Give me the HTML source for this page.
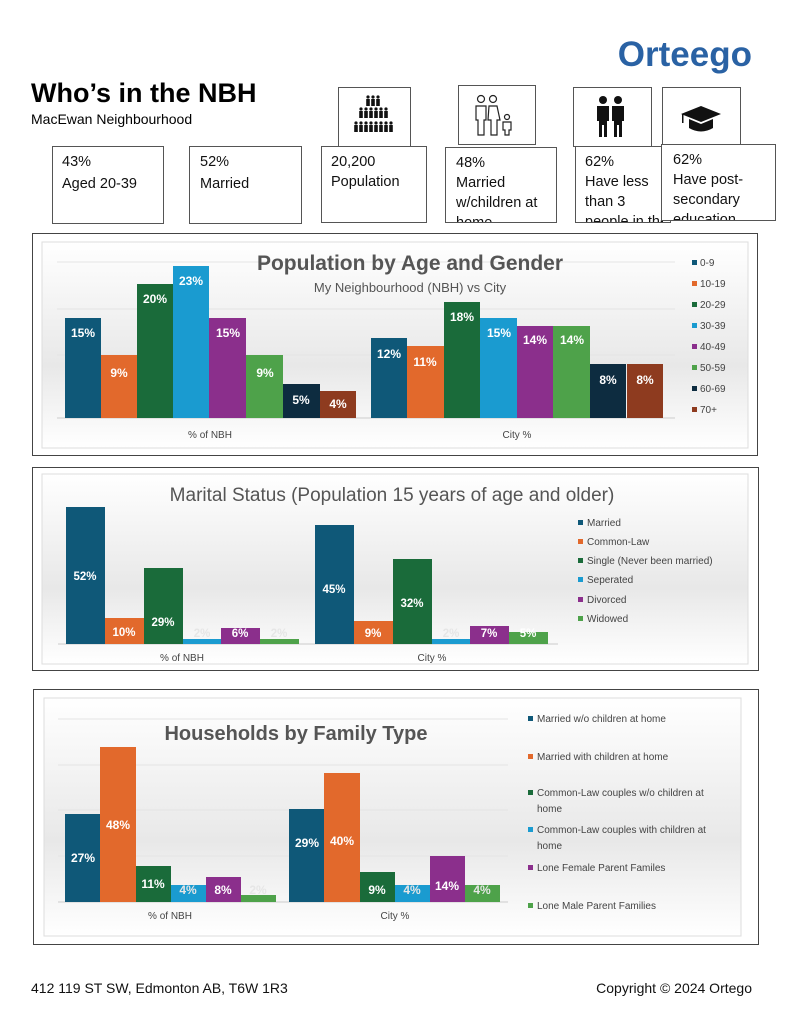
<!DOCTYPE html>
<html><head><meta charset="utf-8"><style>
html,body{margin:0;padding:0;background:#fff;}
svg{display:block;font-family:"Liberation Sans",Arial,sans-serif;}
</style></head><body>
<svg width="793" height="1023" viewBox="0 0 793 1023" xmlns="http://www.w3.org/2000/svg">
<defs>
<linearGradient id="bg" x1="0" y1="0" x2="0" y2="1">
<stop offset="0" stop-color="#ffffff"/><stop offset="0.6" stop-color="#e8e8e8"/><stop offset="1" stop-color="#ffffff"/>
</linearGradient>
<clipPath id="c5"><rect x="575" y="146" width="88" height="76"/></clipPath>
<clipPath id="c4"><rect x="445" y="147" width="111" height="75"/></clipPath>
<clipPath id="c6"><rect x="661" y="144" width="114" height="76"/></clipPath>
<g id="p"><circle cx="0" cy="0" r="1.6"/><rect x="-1.8" y="2" width="3.6" height="7"/></g>
</defs>
<rect width="793" height="1023" fill="#fff"/>
<text x="752" y="66" text-anchor="end" font-size="35" font-weight="bold" fill="#2a62a4">Orteego</text>
<text x="31" y="102" font-size="27" font-weight="bold" fill="#000">Who’s in the NBH</text>
<text x="31" y="124" font-size="14" fill="#000">MacEwan Neighbourhood</text>

<g fill="#fff" stroke="#555" stroke-width="1">
<rect x="338.5" y="87.5" width="72" height="60"/>
<rect x="458.5" y="85.5" width="77" height="59"/>
<rect x="573.5" y="87.5" width="78" height="59"/>
<rect x="662.5" y="87.5" width="78" height="59"/>
</g>
<g fill="#111">
<use href="#p" x="368" y="97"/><use href="#p" x="373" y="97"/><use href="#p" x="378" y="97"/>
<use href="#p" x="361" y="109"/><use href="#p" x="366" y="109"/><use href="#p" x="371" y="109"/><use href="#p" x="376" y="109"/><use href="#p" x="381" y="109"/><use href="#p" x="386" y="109"/>
<use href="#p" x="356" y="123"/><use href="#p" x="361" y="123"/><use href="#p" x="366" y="123"/><use href="#p" x="371" y="123"/><use href="#p" x="376" y="123"/><use href="#p" x="381" y="123"/><use href="#p" x="386" y="123"/><use href="#p" x="391" y="123"/>
</g>
<g fill="none" stroke="#222" stroke-width="1.2">
<circle cx="481" cy="99" r="3.5"/><path d="M476 106h10v14h-2v15h-6v-15h-2z"/>
<circle cx="493" cy="99" r="3.5"/><path d="M489 106h8l3 14h-3v15h-6v-15h-3z"/>
<circle cx="507" cy="117" r="2.5"/><path d="M503 122h8v8h-2v5h-4v-5h-2z"/>
</g>
<g fill="#111">
<circle cx="603" cy="100" r="4"/><path d="M597 106h12v15h-2v16h-3v-12h-2v12h-3v-16h-2z"/>
<circle cx="618" cy="100" r="4"/><path d="M612 106h12v15h-2v16h-3v-12h-2v12h-3v-16h-2z"/>
</g>
<g fill="#111">
<path d="M701 106l-20 8 20 8 20-8z"/><path d="M689 119v9q12 7 24 0v-9l-12 5z"/><rect x="682" y="114" width="1.5" height="9"/>
</g>

<g fill="#fff" stroke="#555" stroke-width="1">
<rect x="52.5" y="146.5" width="111" height="77"/>
<rect x="189.5" y="146.5" width="112" height="77"/>
<rect x="321.5" y="146.5" width="105" height="76"/>
<rect x="445.5" y="147.5" width="111" height="75"/>
<rect x="575.5" y="146.5" width="95" height="76"/>
</g>
<g font-size="14.5" fill="#111">
<text x="62" y="166">43%</text><text x="62" y="188">Aged 20-39</text>
<text x="200" y="166">52%</text><text x="200" y="188">Married</text>
<text x="331" y="166">20,200</text><text x="331" y="186">Population</text>
<g clip-path="url(#c4)"><text x="456" y="167">48%</text><text x="456" y="187">Married</text><text x="456" y="207">w/children at</text><text x="456" y="227">home</text></g>
<g clip-path="url(#c5)"><text x="585" y="166">62%</text><text x="585" y="186">Have less</text><text x="585" y="206">than 3</text><text x="585" y="226">people in the</text></g>
</g>
<rect x="661.5" y="144.5" width="114" height="76" fill="#fff" stroke="#555"/>
<g font-size="14.5" fill="#111" clip-path="url(#c6)"><text x="673" y="164">62%</text><text x="673" y="184">Have post-</text><text x="673" y="204">secondary</text><text x="673" y="224">education</text></g>

<!-- Chart 1 -->
<rect x="32.5" y="233.5" width="725" height="222" fill="#fff" stroke="#444"/>
<rect x="42" y="242" width="706" height="206" fill="url(#bg)" stroke="#ddd"/>
<g stroke="#e4e4e4"><line x1="57" y1="262" x2="675" y2="262"/><line x1="57" y1="309" x2="675" y2="309"/><line x1="57" y1="355" x2="675" y2="355"/><line x1="57" y1="418" x2="675" y2="418" stroke="#ccc"/></g>
<text x="410" y="270" text-anchor="middle" font-size="21" font-weight="bold" fill="#555">Population by Age and Gender</text>
<text x="410" y="292" text-anchor="middle" font-size="13" fill="#555">My Neighbourhood (NBH) vs City</text>
<g>
<rect x="65" y="318" width="36" height="100" fill="#0f5878"/>
<rect x="101" y="355" width="36" height="63" fill="#e2692c"/>
<rect x="137" y="284" width="36" height="134" fill="#1a6b3a"/>
<rect x="173" y="266" width="36" height="152" fill="#1a9bd0"/>
<rect x="209" y="318" width="37" height="100" fill="#8b2f8c"/>
<rect x="246" y="355" width="37" height="63" fill="#4ea24a"/>
<rect x="283" y="384" width="37" height="34" fill="#0d2c40"/>
<rect x="320" y="391" width="36" height="27" fill="#8e3b1f"/>
<rect x="371" y="338" width="36" height="80" fill="#0f5878"/>
<rect x="407" y="346" width="37" height="72" fill="#e2692c"/>
<rect x="444" y="302" width="36" height="116" fill="#1a6b3a"/>
<rect x="480" y="318" width="37" height="100" fill="#1a9bd0"/>
<rect x="517" y="326" width="36" height="92" fill="#8b2f8c"/>
<rect x="553" y="326" width="37" height="92" fill="#4ea24a"/>
<rect x="590" y="364" width="36" height="54" fill="#0d2c40"/>
<rect x="627" y="364" width="36" height="54" fill="#8e3b1f"/>
</g>
<g font-size="12" font-weight="bold" fill="#fff" text-anchor="middle">
<text x="83" y="337">15%</text><text x="119" y="377">9%</text><text x="155" y="303">20%</text><text x="191" y="285">23%</text><text x="228" y="337">15%</text><text x="265" y="377">9%</text><text x="301" y="404">5%</text><text x="338" y="408">4%</text>
<text x="389" y="358">12%</text><text x="425" y="366">11%</text><text x="462" y="321">18%</text><text x="499" y="337">15%</text><text x="535" y="344">14%</text><text x="572" y="344">14%</text><text x="608" y="384">8%</text><text x="645" y="384">8%</text>
</g>
<g font-size="10" fill="#444" text-anchor="middle"><text x="210" y="438">% of NBH</text><text x="517" y="438">City %</text></g>
<g font-size="10" fill="#444">
<rect x="692" y="260" width="5" height="5" fill="#0f5878"/><text x="700" y="266">0-9</text>
<rect x="692" y="281" width="5" height="5" fill="#e2692c"/><text x="700" y="287">10-19</text>
<rect x="692" y="302" width="5" height="5" fill="#1a6b3a"/><text x="700" y="308">20-29</text>
<rect x="692" y="323" width="5" height="5" fill="#1a9bd0"/><text x="700" y="329">30-39</text>
<rect x="692" y="344" width="5" height="5" fill="#8b2f8c"/><text x="700" y="350">40-49</text>
<rect x="692" y="365" width="5" height="5" fill="#4ea24a"/><text x="700" y="371">50-59</text>
<rect x="692" y="386" width="5" height="5" fill="#0d2c40"/><text x="700" y="392">60-69</text>
<rect x="692" y="407" width="5" height="5" fill="#8e3b1f"/><text x="700" y="413">70+</text>
</g>

<!-- Chart 2 -->
<rect x="32.5" y="467.5" width="726" height="203" fill="#fff" stroke="#444"/>
<rect x="42" y="474" width="706" height="190" fill="url(#bg)" stroke="#ddd"/>
<text x="392" y="501" text-anchor="middle" font-size="19" fill="#555">Marital Status (Population 15 years of age and older)</text>
<line x1="58" y1="644" x2="558" y2="644" stroke="#ccc"/>
<rect x="66" y="507" width="39" height="137" fill="#0f5878"/>
<rect x="105" y="618" width="39" height="26" fill="#e2692c"/>
<rect x="144" y="568" width="39" height="76" fill="#1a6b3a"/>
<rect x="183" y="639" width="38" height="5" fill="#1a9bd0"/>
<rect x="221" y="628" width="39" height="16" fill="#8b2f8c"/>
<rect x="260" y="639" width="39" height="5" fill="#4ea24a"/>
<rect x="315" y="525" width="39" height="119" fill="#0f5878"/>
<rect x="354" y="621" width="39" height="23" fill="#e2692c"/>
<rect x="393" y="559" width="39" height="85" fill="#1a6b3a"/>
<rect x="432" y="639" width="38" height="5" fill="#1a9bd0"/>
<rect x="470" y="626" width="39" height="18" fill="#8b2f8c"/>
<rect x="509" y="632" width="39" height="12" fill="#4ea24a"/>
<g font-size="11.5" font-weight="bold" fill="#fff" text-anchor="middle">
<text x="85" y="580">52%</text><text x="124" y="636">10%</text><text x="163" y="626">29%</text><text x="202" y="637" fill="#e6e6e6">2%</text><text x="240" y="637">6%</text><text x="279" y="637" fill="#e6e6e6">2%</text>
<text x="334" y="593">45%</text><text x="373" y="637">9%</text><text x="412" y="607">32%</text><text x="451" y="637" fill="#e6e6e6">2%</text><text x="489" y="637">7%</text><text x="528" y="637">5%</text>
</g>
<g font-size="10" fill="#444" text-anchor="middle"><text x="182" y="661">% of NBH</text><text x="432" y="661">City %</text></g>
<g font-size="10" fill="#444">
<rect x="578" y="520" width="5" height="5" fill="#0f5878"/><text x="587" y="526">Married</text>
<rect x="578" y="539" width="5" height="5" fill="#e2692c"/><text x="587" y="545">Common-Law</text>
<rect x="578" y="558" width="5" height="5" fill="#1a6b3a"/><text x="587" y="564">Single (Never been married)</text>
<rect x="578" y="577" width="5" height="5" fill="#1a9bd0"/><text x="587" y="583">Seperated</text>
<rect x="578" y="597" width="5" height="5" fill="#8b2f8c"/><text x="587" y="603">Divorced</text>
<rect x="578" y="616" width="5" height="5" fill="#4ea24a"/><text x="587" y="622">Widowed</text>
</g>

<!-- Chart 3 -->
<rect x="33.5" y="689.5" width="725" height="255" fill="#fff" stroke="#444"/>
<rect x="44" y="698" width="697" height="238" fill="url(#bg)" stroke="#ddd"/>
<g stroke="#e4e4e4"><line x1="58" y1="719" x2="508" y2="719"/><line x1="58" y1="765" x2="508" y2="765"/><line x1="58" y1="810" x2="508" y2="810"/><line x1="58" y1="856" x2="508" y2="856"/><line x1="58" y1="902" x2="508" y2="902" stroke="#ccc"/></g>
<text x="296" y="740" text-anchor="middle" font-size="20" font-weight="bold" fill="#555">Households by Family Type</text>
<rect x="65" y="814" width="35" height="88" fill="#0f5878"/>
<rect x="100" y="747" width="36" height="155" fill="#e2692c"/>
<rect x="136" y="866" width="35" height="36" fill="#1a6b3a"/>
<rect x="171" y="885" width="35" height="17" fill="#1a9bd0"/>
<rect x="206" y="877" width="35" height="25" fill="#8b2f8c"/>
<rect x="241" y="895" width="35" height="7" fill="#4ea24a"/>
<rect x="289" y="809" width="35" height="93" fill="#0f5878"/>
<rect x="324" y="773" width="36" height="129" fill="#e2692c"/>
<rect x="360" y="872" width="35" height="30" fill="#1a6b3a"/>
<rect x="395" y="885" width="35" height="17" fill="#1a9bd0"/>
<rect x="430" y="856" width="35" height="46" fill="#8b2f8c"/>
<rect x="465" y="885" width="35" height="17" fill="#4ea24a"/>
<g font-size="12" font-weight="bold" fill="#fff" text-anchor="middle">
<text x="83" y="862">27%</text><text x="118" y="829">48%</text><text x="153" y="888">11%</text><text x="188" y="894" fill="#e6e6e6">4%</text><text x="223" y="894">8%</text><text x="258" y="894" fill="#e6e6e6">2%</text>
<text x="307" y="847">29%</text><text x="342" y="845">40%</text><text x="377" y="894">9%</text><text x="412" y="894" fill="#e6e6e6">4%</text><text x="447" y="890">14%</text><text x="482" y="894" fill="#e6e6e6">4%</text>
</g>
<g font-size="10" fill="#444" text-anchor="middle"><text x="170" y="919">% of NBH</text><text x="395" y="919">City %</text></g>
<g font-size="10" fill="#444">
<rect x="528" y="716" width="5" height="5" fill="#0f5878"/><text x="537" y="722">Married w/o children at home</text>
<rect x="528" y="754" width="5" height="5" fill="#e2692c"/><text x="537" y="760">Married with children at home</text>
<rect x="528" y="790" width="5" height="5" fill="#1a6b3a"/><text x="537" y="796">Common-Law couples w/o children at</text><text x="537" y="812">home</text>
<rect x="528" y="827" width="5" height="5" fill="#1a9bd0"/><text x="537" y="833">Common-Law couples with children at</text><text x="537" y="849">home</text>
<rect x="528" y="865" width="5" height="5" fill="#8b2f8c"/><text x="537" y="871">Lone Female Parent Familes</text>
<rect x="528" y="903" width="5" height="5" fill="#4ea24a"/><text x="537" y="909">Lone Male Parent Families</text>
</g>

<text x="31" y="993" font-size="14" fill="#111">412 119 ST SW, Edmonton AB, T6W 1R3</text>
<text x="752" y="993" text-anchor="end" font-size="14" fill="#111">Copyright © 2024 Ortego</text>
</svg>
</body></html>
